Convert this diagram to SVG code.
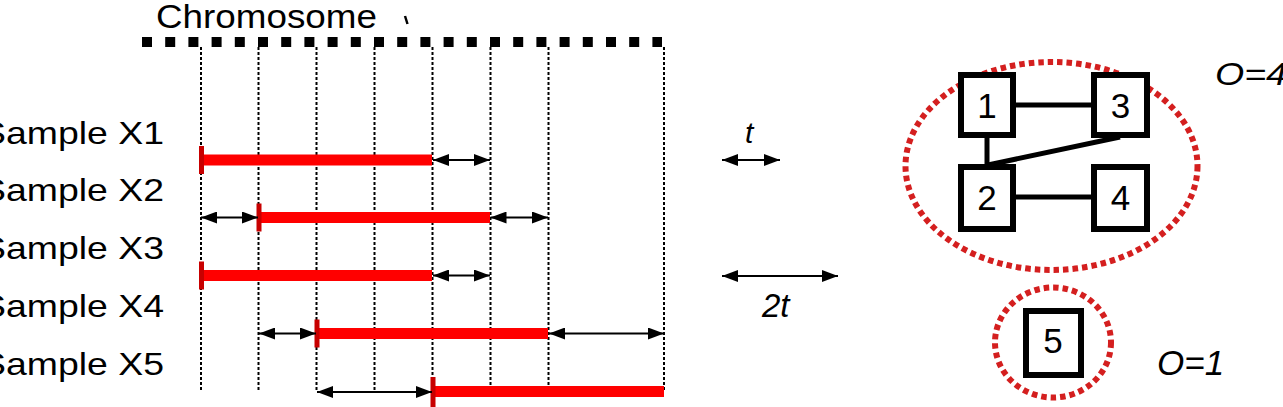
<svg xmlns="http://www.w3.org/2000/svg" width="1283" height="407" viewBox="0 0 1283 407">
<defs>
<marker id="ah" viewBox="0 0 16 12" refX="16" refY="6" markerWidth="16" markerHeight="12" markerUnits="userSpaceOnUse" orient="auto-start-reverse">
<path d="M0,0 L16,6 L0,12 z" fill="#000"/>
</marker>
<style>
.lbl{font-family:"Liberation Sans",Arial,sans-serif;font-size:32px;fill:#000}
.it{font-family:"Liberation Sans",Arial,sans-serif;font-style:italic;fill:#000}
.dig{font-family:"Liberation Sans",Arial,sans-serif;font-size:35px;fill:#000;text-anchor:middle}
.vl{stroke:#000;stroke-width:2;stroke-dasharray:3 2;fill:none}
.bar{fill:#ff0000}
.tick{fill:#c80000}
.arr{stroke:#000;stroke-width:2;fill:none;marker-start:url(#ah);marker-end:url(#ah)}
.box{fill:#fff;stroke:#000;stroke-width:6}
.edge{stroke:#000;stroke-width:5;fill:none}
.grp{fill:none;stroke:#d41f1f;stroke-width:6;stroke-dasharray:5.5 4}
</style>
</defs>
<rect width="1283" height="407" fill="#fff"/>

<g id="chromosome">
<text class="lbl" x="156" y="28" style="font-size:34px" textLength="221" lengthAdjust="spacingAndGlyphs">Chromosome</text>
<line x1="405" y1="16" x2="407.5" y2="24" stroke="#000" stroke-width="2.5"/>
<line x1="142" y1="42" x2="662" y2="42" stroke="#000" stroke-width="10" stroke-dasharray="10 13.2"/>
</g>

<g id="grid">
<line class="vl" x1="201" y1="47" x2="201" y2="392"/>
<line class="vl" x1="258.5" y1="47" x2="258.5" y2="392"/>
<line class="vl" x1="316.5" y1="47" x2="316.5" y2="392"/>
<line class="vl" x1="374.5" y1="47" x2="374.5" y2="392"/>
<line class="vl" x1="432.5" y1="47" x2="432.5" y2="392"/>
<line class="vl" x1="490.5" y1="47" x2="490.5" y2="392"/>
<line class="vl" x1="548.5" y1="47" x2="548.5" y2="392"/>
<line class="vl" x1="664" y1="47" x2="664" y2="392"/>
</g>

<g id="labels">
<text class="lbl" x="-19" y="143.5" textLength="183" lengthAdjust="spacingAndGlyphs">Sample X1</text>
<text class="lbl" x="-19" y="201" textLength="183" lengthAdjust="spacingAndGlyphs">Sample X2</text>
<text class="lbl" x="-19" y="259" textLength="183" lengthAdjust="spacingAndGlyphs">Sample X3</text>
<text class="lbl" x="-19" y="317" textLength="183" lengthAdjust="spacingAndGlyphs">Sample X4</text>
<text class="lbl" x="-19" y="374.5" textLength="183" lengthAdjust="spacingAndGlyphs">Sample X5</text>
</g>

<g id="segments">
<rect class="bar" x="201" y="154.5" width="231" height="11"/>
<rect class="tick" x="199" y="146" width="5" height="28"/>
<rect class="bar" x="258.5" y="212" width="231.5" height="11"/>
<rect class="tick" x="256.5" y="203.5" width="5" height="28"/>
<rect class="bar" x="201" y="270" width="231" height="11"/>
<rect class="tick" x="199" y="261.5" width="5" height="28"/>
<rect class="bar" x="316.5" y="328" width="231.5" height="11"/>
<rect class="tick" x="314.5" y="319.5" width="5" height="28"/>
<rect class="bar" x="432.5" y="386" width="231.5" height="11"/>
<rect class="tick" x="430.5" y="377" width="5" height="30"/>
</g>

<g id="connectors">
<line class="arr" x1="433" y1="160" x2="490" y2="160"/>
<line class="arr" x1="201" y1="217.5" x2="258" y2="217.5"/>
<line class="arr" x1="490.5" y1="217.5" x2="548" y2="217.5"/>
<line class="arr" x1="433" y1="275.5" x2="490" y2="275.5"/>
<line class="arr" x1="259" y1="333.5" x2="316" y2="333.5"/>
<line class="arr" x1="549" y1="333.5" x2="664" y2="333.5"/>
<line class="arr" x1="317" y1="392" x2="432" y2="392"/>
<line class="arr" x1="722" y1="160" x2="780" y2="160"/>
<line class="arr" x1="722" y1="276" x2="838" y2="276"/>
<line class="edge" x1="1016" y1="105" x2="1091" y2="105"/>
<line class="edge" x1="1016" y1="197" x2="1091" y2="197"/>
<line class="edge" x1="987" y1="138" x2="987" y2="164"/>
<line class="edge" x1="988" y1="165" x2="1120" y2="137"/>
</g>

<g id="scale-labels">
<text class="it" x="745" y="143" style="font-size:30px">t</text>
<text class="it" x="762" y="317" style="font-size:33px">2t</text>
</g>

<g id="group-a">
<ellipse class="grp" cx="1051.5" cy="166" rx="146" ry="104"/>
<text class="it" x="1215" y="85" style="font-size:31px" textLength="72" lengthAdjust="spacingAndGlyphs">O=4</text>
</g>

<g id="node1">
<rect class="box" x="961" y="75" width="52" height="60"/>
<text class="dig" x="987" y="118">1</text>
</g>
<g id="node3">
<rect class="box" x="1094" y="75" width="53" height="60"/>
<text class="dig" x="1120.5" y="118">3</text>
</g>
<g id="node2">
<rect class="box" x="961" y="167" width="52" height="62"/>
<text class="dig" x="987" y="210">2</text>
</g>
<g id="node4">
<rect class="box" x="1094" y="167" width="53" height="62"/>
<text class="dig" x="1120.5" y="210">4</text>
</g>

<g id="group-b">
<ellipse class="grp" cx="1053" cy="342.5" rx="58" ry="55"/>
<text class="it" x="1157" y="375" style="font-size:35px">O=1</text>
</g>
<g id="node5">
<rect class="box" x="1026" y="311" width="55" height="64"/>
<text class="dig" x="1053" y="353">5</text>
</g>
</svg>
